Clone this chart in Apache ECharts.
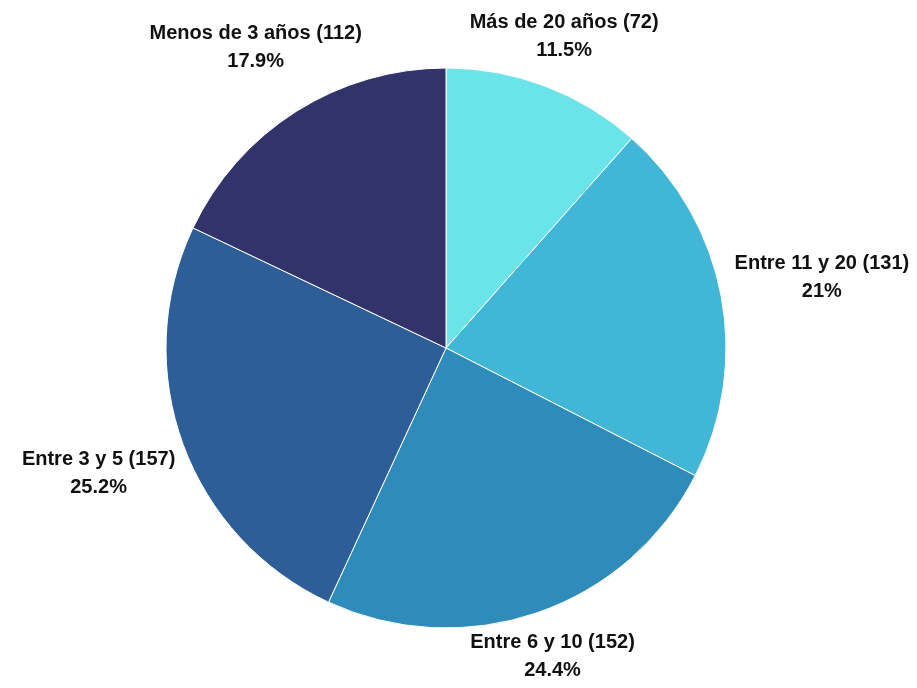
<!DOCTYPE html>
<html>
<head>
<meta charset="utf-8">
<script src="https://cdn.jsdelivr.net/npm/echarts@6/dist/echarts.min.js"></script>
<style>
  html, body { margin: 0; padding: 0; background: #fff; }
  #main { width: 917px; height: 688px; }
</style>
</head>
<body>
<div id="main"></div>
<script>
    // datos de antigüedad
    var categorias = ['Más de 20 años', 'Entre 11 y 20', 'Entre 6 y 10', 'Entre 3 y 5', 'Menos de 3 años'];
    var valores = [72, 131, 152, 157, 112];
    var porcentajes = ['11.5%', '21%', '24.4%', '25.2%', '17.9%'];
    var colores = ['#6ae4e8', '#42b6d6', '#2e8bba', '#2e5e97', '#31336a'];

    var cx = 446, cy = 348, radio = 280;
    var total = valores.reduce(function (a, b) { return a + b; }, 0);

    // angulo medio de cada porcion (desde arriba, sentido horario)
    function anguloMedio(idx) {
        var acc = 0;
        for (var i = 0; i < idx; i++) acc += valores[i];
        return (acc + valores[idx] / 2) / total * Math.PI * 2;
    }

    var data = [];
    for (var i = 0; i < categorias.length; i++) {
        data.push({
            name: categorias[i],
            value: valores[i],
            itemStyle: {color: colores[i]}
        });
    }

    var chart = echarts.init(document.getElementById('main'));
    chart.setOption({
        animation: false,
        series: [{
            type: 'pie',
            center: [cx, cy],
            radius: [0, radio],
            startAngle: 90,
            clockwise: true,
            itemStyle: {borderColor: '#ffffff', borderWidth: 1},
            label: {
                show: true,
                position: 'outside',
                overflow: 'none',
                formatter: function (p) {
                    return p.name + ' (' + p.value + ')\n' + porcentajes[p.dataIndex];
                },
                fontFamily: "'Liberation Sans', Arial, sans-serif",
                fontWeight: 'bold',
                fontSize: 20,
                lineHeight: 28,
                color: '#111111',
                align: 'center'
            },
            labelLine: {show: false},
            labelLayout: function (params) {
                var a = anguloMedio(params.dataIndex);
                var s = Math.sin(a), c = Math.cos(a);
                var w = params.labelRect.width;
                var r = radio + 16 + Math.abs(s) * w / 2 + Math.abs(c) * 4;
                return {
                    x: cx + r * s,
                    y: cy - r * c,
                    align: 'center',
                    verticalAlign: 'middle'
                };
            },
            data: data
        }]
    });
</script>
</body>
</html>
